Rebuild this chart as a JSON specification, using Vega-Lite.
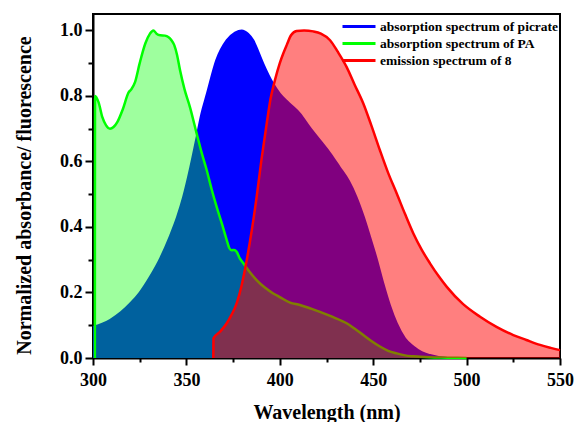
{
  "$schema": "https://vega.github.io/schema/vega-lite/v6.json",
  "autosize": {"type": "none"},
  "padding": {"left": 93, "top": 14, "right": 17, "bottom": 64},
  "width": 467,
  "height": 344,
  "background": "white",
  "config": {
    "view": {"stroke": "black", "strokeWidth": 2},
    "font": "Liberation Serif"
  },
  "datasets": {
    "picrate": [
      {"s": "absorption spectrum of picrate", "x": 300, "y": 0.095},
      {"s": "absorption spectrum of picrate", "x": 305, "y": 0.105},
      {"s": "absorption spectrum of picrate", "x": 309, "y": 0.116},
      {"s": "absorption spectrum of picrate", "x": 315, "y": 0.14},
      {"s": "absorption spectrum of picrate", "x": 320, "y": 0.167},
      {"s": "absorption spectrum of picrate", "x": 325, "y": 0.2},
      {"s": "absorption spectrum of picrate", "x": 330.5, "y": 0.248},
      {"s": "absorption spectrum of picrate", "x": 336, "y": 0.305},
      {"s": "absorption spectrum of picrate", "x": 341, "y": 0.37},
      {"s": "absorption spectrum of picrate", "x": 345, "y": 0.43},
      {"s": "absorption spectrum of picrate", "x": 348.3, "y": 0.492},
      {"s": "absorption spectrum of picrate", "x": 352, "y": 0.58},
      {"s": "absorption spectrum of picrate", "x": 355.5, "y": 0.675},
      {"s": "absorption spectrum of picrate", "x": 358, "y": 0.745},
      {"s": "absorption spectrum of picrate", "x": 361, "y": 0.807},
      {"s": "absorption spectrum of picrate", "x": 366, "y": 0.909},
      {"s": "absorption spectrum of picrate", "x": 371.6, "y": 0.97},
      {"s": "absorption spectrum of picrate", "x": 376, "y": 0.993},
      {"s": "absorption spectrum of picrate", "x": 379.6, "y": 1.0},
      {"s": "absorption spectrum of picrate", "x": 383, "y": 0.99},
      {"s": "absorption spectrum of picrate", "x": 385.8, "y": 0.97},
      {"s": "absorption spectrum of picrate", "x": 388.5, "y": 0.935},
      {"s": "absorption spectrum of picrate", "x": 391.2, "y": 0.898},
      {"s": "absorption spectrum of picrate", "x": 396.5, "y": 0.837},
      {"s": "absorption spectrum of picrate", "x": 400, "y": 0.807},
      {"s": "absorption spectrum of picrate", "x": 405, "y": 0.778},
      {"s": "absorption spectrum of picrate", "x": 410.8, "y": 0.746},
      {"s": "absorption spectrum of picrate", "x": 416, "y": 0.705},
      {"s": "absorption spectrum of picrate", "x": 421.5, "y": 0.665},
      {"s": "absorption spectrum of picrate", "x": 427, "y": 0.625},
      {"s": "absorption spectrum of picrate", "x": 432, "y": 0.583},
      {"s": "absorption spectrum of picrate", "x": 437, "y": 0.54},
      {"s": "absorption spectrum of picrate", "x": 441, "y": 0.492},
      {"s": "absorption spectrum of picrate", "x": 445, "y": 0.43},
      {"s": "absorption spectrum of picrate", "x": 448.3, "y": 0.37},
      {"s": "absorption spectrum of picrate", "x": 452, "y": 0.3},
      {"s": "absorption spectrum of picrate", "x": 455.4, "y": 0.228},
      {"s": "absorption spectrum of picrate", "x": 459, "y": 0.16},
      {"s": "absorption spectrum of picrate", "x": 462.6, "y": 0.106},
      {"s": "absorption spectrum of picrate", "x": 467, "y": 0.06},
      {"s": "absorption spectrum of picrate", "x": 471.5, "y": 0.035},
      {"s": "absorption spectrum of picrate", "x": 476, "y": 0.018},
      {"s": "absorption spectrum of picrate", "x": 480.4, "y": 0.009},
      {"s": "absorption spectrum of picrate", "x": 485, "y": 0.003},
      {"s": "absorption spectrum of picrate", "x": 490, "y": 0}
    ],
    "pa": [
      {"s": "absorption spectrum of PA", "x": 301, "y": 0},
      {"s": "absorption spectrum of PA", "x": 301.1, "y": 0.8},
      {"s": "absorption spectrum of PA", "x": 303, "y": 0.78},
      {"s": "absorption spectrum of PA", "x": 305, "y": 0.735},
      {"s": "absorption spectrum of PA", "x": 307, "y": 0.71},
      {"s": "absorption spectrum of PA", "x": 309.1, "y": 0.7},
      {"s": "absorption spectrum of PA", "x": 311, "y": 0.705},
      {"s": "absorption spectrum of PA", "x": 313, "y": 0.72},
      {"s": "absorption spectrum of PA", "x": 316, "y": 0.76},
      {"s": "absorption spectrum of PA", "x": 319, "y": 0.81},
      {"s": "absorption spectrum of PA", "x": 320.5, "y": 0.82},
      {"s": "absorption spectrum of PA", "x": 322.5, "y": 0.842},
      {"s": "absorption spectrum of PA", "x": 325, "y": 0.9},
      {"s": "absorption spectrum of PA", "x": 328, "y": 0.96},
      {"s": "absorption spectrum of PA", "x": 330.5, "y": 0.99},
      {"s": "absorption spectrum of PA", "x": 332.3, "y": 1.0},
      {"s": "absorption spectrum of PA", "x": 334, "y": 0.99},
      {"s": "absorption spectrum of PA", "x": 336, "y": 0.985},
      {"s": "absorption spectrum of PA", "x": 338.5, "y": 0.984},
      {"s": "absorption spectrum of PA", "x": 340.3, "y": 0.98},
      {"s": "absorption spectrum of PA", "x": 342, "y": 0.97},
      {"s": "absorption spectrum of PA", "x": 343.5, "y": 0.955},
      {"s": "absorption spectrum of PA", "x": 345, "y": 0.925},
      {"s": "absorption spectrum of PA", "x": 346.6, "y": 0.878},
      {"s": "absorption spectrum of PA", "x": 349, "y": 0.82},
      {"s": "absorption spectrum of PA", "x": 351.9, "y": 0.766},
      {"s": "absorption spectrum of PA", "x": 355.5, "y": 0.685},
      {"s": "absorption spectrum of PA", "x": 358, "y": 0.63},
      {"s": "absorption spectrum of PA", "x": 360.9, "y": 0.573},
      {"s": "absorption spectrum of PA", "x": 363.5, "y": 0.515},
      {"s": "absorption spectrum of PA", "x": 366.2, "y": 0.461},
      {"s": "absorption spectrum of PA", "x": 369, "y": 0.41},
      {"s": "absorption spectrum of PA", "x": 371.6, "y": 0.36},
      {"s": "absorption spectrum of PA", "x": 373, "y": 0.335},
      {"s": "absorption spectrum of PA", "x": 374.2, "y": 0.329},
      {"s": "absorption spectrum of PA", "x": 375.5, "y": 0.33},
      {"s": "absorption spectrum of PA", "x": 376.9, "y": 0.324},
      {"s": "absorption spectrum of PA", "x": 378.5, "y": 0.305},
      {"s": "absorption spectrum of PA", "x": 380.5, "y": 0.289},
      {"s": "absorption spectrum of PA", "x": 384, "y": 0.262},
      {"s": "absorption spectrum of PA", "x": 387.6, "y": 0.238},
      {"s": "absorption spectrum of PA", "x": 392, "y": 0.215},
      {"s": "absorption spectrum of PA", "x": 396.5, "y": 0.197},
      {"s": "absorption spectrum of PA", "x": 400, "y": 0.186},
      {"s": "absorption spectrum of PA", "x": 405.5, "y": 0.169},
      {"s": "absorption spectrum of PA", "x": 410.8, "y": 0.162},
      {"s": "absorption spectrum of PA", "x": 416, "y": 0.152},
      {"s": "absorption spectrum of PA", "x": 421.5, "y": 0.141},
      {"s": "absorption spectrum of PA", "x": 428, "y": 0.126},
      {"s": "absorption spectrum of PA", "x": 435.8, "y": 0.106},
      {"s": "absorption spectrum of PA", "x": 440, "y": 0.09},
      {"s": "absorption spectrum of PA", "x": 444.7, "y": 0.07},
      {"s": "absorption spectrum of PA", "x": 449, "y": 0.052},
      {"s": "absorption spectrum of PA", "x": 453.6, "y": 0.035},
      {"s": "absorption spectrum of PA", "x": 458, "y": 0.022},
      {"s": "absorption spectrum of PA", "x": 462.6, "y": 0.014},
      {"s": "absorption spectrum of PA", "x": 467, "y": 0.008},
      {"s": "absorption spectrum of PA", "x": 471.5, "y": 0.005},
      {"s": "absorption spectrum of PA", "x": 480, "y": 0.002},
      {"s": "absorption spectrum of PA", "x": 490, "y": 0.001},
      {"s": "absorption spectrum of PA", "x": 500, "y": 0}
    ],
    "em": [
      {"s": "emission spectrum of 8", "x": 364.4, "y": 0},
      {"s": "emission spectrum of 8", "x": 364.5, "y": 0.06},
      {"s": "emission spectrum of 8", "x": 368, "y": 0.08},
      {"s": "emission spectrum of 8", "x": 371.6, "y": 0.106},
      {"s": "emission spectrum of 8", "x": 374, "y": 0.13},
      {"s": "emission spectrum of 8", "x": 376.9, "y": 0.167},
      {"s": "emission spectrum of 8", "x": 379.5, "y": 0.22},
      {"s": "emission spectrum of 8", "x": 382.3, "y": 0.299},
      {"s": "emission spectrum of 8", "x": 385, "y": 0.39},
      {"s": "emission spectrum of 8", "x": 387.6, "y": 0.492},
      {"s": "emission spectrum of 8", "x": 390.3, "y": 0.61},
      {"s": "emission spectrum of 8", "x": 393, "y": 0.716},
      {"s": "emission spectrum of 8", "x": 395, "y": 0.79},
      {"s": "emission spectrum of 8", "x": 397.4, "y": 0.848},
      {"s": "emission spectrum of 8", "x": 400, "y": 0.9},
      {"s": "emission spectrum of 8", "x": 401.9, "y": 0.93},
      {"s": "emission spectrum of 8", "x": 403.7, "y": 0.955},
      {"s": "emission spectrum of 8", "x": 406, "y": 0.985},
      {"s": "emission spectrum of 8", "x": 409, "y": 0.998},
      {"s": "emission spectrum of 8", "x": 413, "y": 1.0},
      {"s": "emission spectrum of 8", "x": 417.9, "y": 0.997},
      {"s": "emission spectrum of 8", "x": 422, "y": 0.99},
      {"s": "emission spectrum of 8", "x": 426.9, "y": 0.97},
      {"s": "emission spectrum of 8", "x": 431, "y": 0.935},
      {"s": "emission spectrum of 8", "x": 435.8, "y": 0.888},
      {"s": "emission spectrum of 8", "x": 440, "y": 0.835},
      {"s": "emission spectrum of 8", "x": 444.7, "y": 0.777},
      {"s": "emission spectrum of 8", "x": 449, "y": 0.71},
      {"s": "emission spectrum of 8", "x": 453.6, "y": 0.634},
      {"s": "emission spectrum of 8", "x": 458, "y": 0.565},
      {"s": "emission spectrum of 8", "x": 462.6, "y": 0.502},
      {"s": "emission spectrum of 8", "x": 467, "y": 0.44},
      {"s": "emission spectrum of 8", "x": 471.5, "y": 0.38},
      {"s": "emission spectrum of 8", "x": 476, "y": 0.33},
      {"s": "emission spectrum of 8", "x": 480.4, "y": 0.289},
      {"s": "emission spectrum of 8", "x": 485, "y": 0.25},
      {"s": "emission spectrum of 8", "x": 489.4, "y": 0.217},
      {"s": "emission spectrum of 8", "x": 498, "y": 0.165},
      {"s": "emission spectrum of 8", "x": 507.2, "y": 0.126},
      {"s": "emission spectrum of 8", "x": 516, "y": 0.095},
      {"s": "emission spectrum of 8", "x": 525, "y": 0.07},
      {"s": "emission spectrum of 8", "x": 532, "y": 0.055},
      {"s": "emission spectrum of 8", "x": 539.3, "y": 0.04},
      {"s": "emission spectrum of 8", "x": 545, "y": 0.031},
      {"s": "emission spectrum of 8", "x": 550, "y": 0.024}
    ]
  },
  "encoding": {
    "x": {
      "field": "x", "type": "quantitative",
      "scale": {"domain": [300, 550], "nice": false, "zero": false},
      "axis": {
        "title": "Wavelength (nm)",
        "values": [300, 325, 350, 375, 400, 425, 450, 475, 500, 525, 550],
        "labelExpr": "datum.value % 50 != 0 ? '' : datum.label",
        "labelFlush": false, "labelOverlap": false,
        "grid": false,
        "domainColor": "black", "domainWidth": 2,
        "tickColor": "black", "tickWidth": 2,
        "tickSize": {"condition": {"test": "datum.value % 50 != 0", "value": 4}, "value": 7},
        "labelPadding": 6,
        "labelFont": "Liberation Serif", "labelFontSize": 18, "labelFontWeight": "bold", "labelColor": "black",
        "titleFont": "Liberation Serif", "titleFontSize": 20, "titleFontWeight": "bold", "titleColor": "black",
        "titlePadding": 13
      }
    },
    "y": {
      "field": "y", "type": "quantitative",
      "scale": {"domain": [0, 1.05], "nice": false},
      "axis": {
        "title": "Normalized absorbance/ fluorescence",
        "values": [0, 0.1, 0.2, 0.3, 0.4, 0.5, 0.6, 0.7, 0.8, 0.9, 1.0],
        "labelExpr": "round(datum.value*10) % 2 == 1 ? '' : format(datum.value, '.1f')",
        "labelOverlap": false,
        "grid": false,
        "domainColor": "black", "domainWidth": 2,
        "tickColor": "black", "tickWidth": 2,
        "tickSize": {"condition": {"test": "round(datum.value*10) % 2 == 1", "value": 5}, "value": 8},
        "labelPadding": 3,
        "labelFont": "Liberation Serif", "labelFontSize": 18, "labelFontWeight": "bold", "labelColor": "black",
        "titleFont": "Liberation Serif", "titleFontSize": 20, "titleFontWeight": "bold", "titleColor": "black",
        "titleAngle": -90, "titleAlign": "center", "titleBaseline": "middle",
        "titleX": -69, "titleY": 181
      }
    }
  },
  "layer": [
    {
      "data": {"name": "picrate"},
      "mark": {"type": "area", "color": "#0000ff", "opacity": 1, "interpolate": "monotone"}
    },
    {
      "data": {"name": "picrate"},
      "mark": {"type": "line", "strokeWidth": 2, "interpolate": "monotone"},
      "encoding": {
        "stroke": {"field": "s", "type": "nominal",
          "scale": {"domain": ["absorption spectrum of picrate", "absorption spectrum of PA", "emission spectrum of 8"], "range": ["#0000ff", "#00ff00", "#ff0000"]},
          "legend": {
            "title": null, "orient": "none", "legendX": 248, "legendY": 5,
            "symbolType": "stroke", "symbolSize": 1089, "symbolStrokeWidth": 3,
            "clipHeight": 15, "rowPadding": 2, "padding": 0, "labelOffset": 3,
            "labelFont": "Liberation Serif", "labelFontSize": 13.5, "labelFontWeight": "bold", "labelColor": "black",
            "labelLimit": 300
          }
        }
      }
    },
    {
      "data": {"name": "pa"},
      "mark": {"type": "area", "color": "#00ff00", "opacity": 0.38, "interpolate": "monotone"}
    },
    {
      "data": {"name": "pa"},
      "mark": {"type": "line", "strokeWidth": 2.5, "interpolate": "monotone"},
      "encoding": {"stroke": {"field": "s", "type": "nominal"}}
    },
    {
      "data": {"name": "em"},
      "mark": {"type": "area", "color": "#ff0000", "opacity": 0.5, "interpolate": "monotone"}
    },
    {
      "data": {"name": "em"},
      "mark": {"type": "line", "strokeWidth": 2.5, "interpolate": "monotone"},
      "encoding": {"stroke": {"field": "s", "type": "nominal"}}
    }
  ]
}
